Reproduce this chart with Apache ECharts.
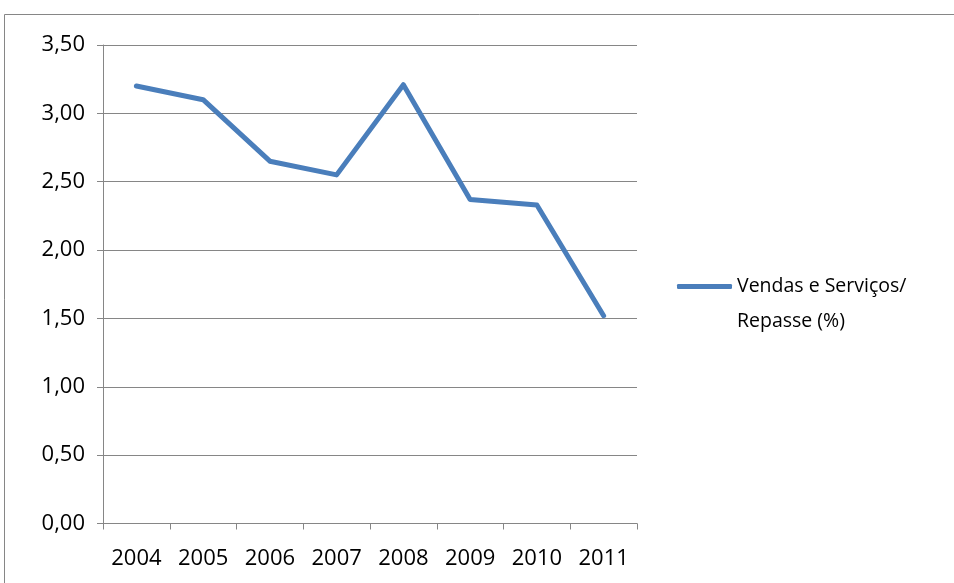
<!DOCTYPE html>
<html>
<head>
<meta charset="utf-8">
<script src="https://cdn.jsdelivr.net/npm/echarts@6/dist/echarts.min.js"></script>
<style>
  html, body { margin: 0; padding: 0; background: #ffffff; }
  #chart { width: 954px; height: 583px; }
</style>
</head>
<body>
<div id="chart"></div>
<script>
// Anos e percentual de vendas e serviços sobre o repasse
const years = ['2004', '2005', '2006', '2007', '2008', '2009', '2010', '2011'];
const ratioValues = [3.20, 3.10, 2.65, 2.55, 3.21, 2.37, 2.33, 1.52];
const seriesName = 'Vendas e Serviços/\nRepasse (%)';

const axisGray = '#868686';
const lineBlue = '#4a7ebb';
const fontFamily = '"Open Sans", "Noto Sans", sans-serif';

const chart = echarts.init(document.getElementById('chart'), null, { renderer: 'canvas' });

chart.setOption({
  backgroundColor: '#ffffff',
  animation: false,
  graphic: [{
    type: 'rect',
    shape: { x: 4.5, y: 14.5, width: 1200, height: 1000 },
    style: { fill: 'none', stroke: axisGray, lineWidth: 1 },
    silent: true,
    z: -1
  }],
  grid: {
    left: 103,
    right: 317,
    top: 45,
    bottom: 59.5,
    containLabel: false
  },
  legend: {
    data: [seriesName],
    orient: 'vertical',
    left: 677,
    top: 234,
    icon: 'roundRect',
    itemWidth: 55,
    itemHeight: 5,
    itemGap: 0,
    padding: 0,
    itemStyle: { color: lineBlue, borderWidth: 0 },
    // an empty first line keeps the first text line level with the icon
    formatter: name => '\n' + name,
    textStyle: {
      fontFamily: fontFamily,
      fontSize: 19.5,
      color: '#000000',
      lineHeight: 35
    }
  },
  xAxis: {
    type: 'category',
    data: years,
    boundaryGap: true,
    axisLine: { lineStyle: { color: axisGray, width: 1 } },
    axisTick: { show: true, length: 6, lineStyle: { color: axisGray } },
    axisLabel: {
      margin: 24,
      fontFamily: fontFamily,
      fontSize: 22,
      color: '#000000'
    },
    splitLine: { show: false }
  },
  yAxis: {
    type: 'value',
    min: 0,
    max: 3.5,
    interval: 0.5,
    axisLine: { show: true, lineStyle: { color: axisGray, width: 1 } },
    axisTick: { show: true, length: 6, lineStyle: { color: axisGray } },
    axisLabel: {
      margin: 18,
      fontFamily: fontFamily,
      fontSize: 22,
      color: '#000000',
      formatter: v => v.toFixed(2).replace('.', ',')
    },
    splitLine: { show: true, lineStyle: { color: axisGray, width: 1 } }
  },
  series: [{
    name: seriesName,
    type: 'line',
    data: ratioValues,
    symbol: 'none',
    lineStyle: { color: lineBlue, width: 5, cap: 'round', join: 'round' },
    itemStyle: { color: lineBlue }
  }]
});
</script>
</body>
</html>
